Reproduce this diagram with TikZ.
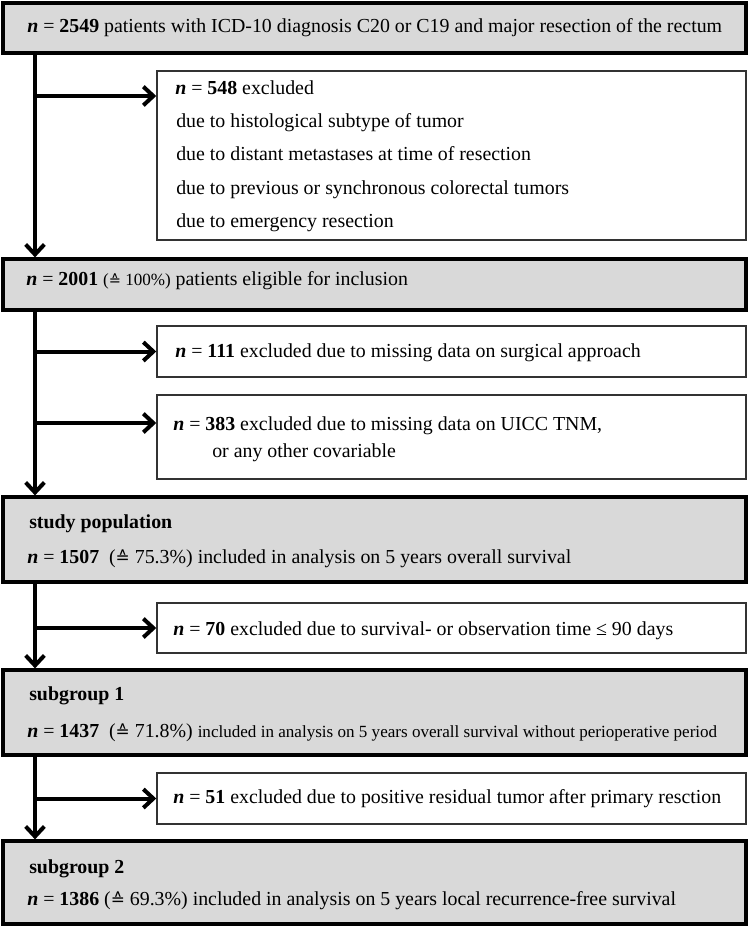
\documentclass[tikz,border=0pt]{standalone}
\usepackage{fontspec}
\setmainfont{Liberation Serif}
\newfontfamily\symfnt{DejaVu Sans}
\usetikzlibrary{arrows.meta,fit}
\newcommand{\estsym}{{\symfnt\scalebox{0.85}{≙}}}
\newcommand{\nn}[1]{\textbf{\textit{n}} = \textbf{#1}}
\definecolor{boxgray}{HTML}{D9D9D9}
\begin{document}
\begin{tikzpicture}[x=0.75pt,y=-0.75pt,
  mainbox/.style={draw=black,line width=2.4pt,fill=boxgray,inner sep=0pt},
  exbox/.style={draw=black!80,line width=1.1pt,fill=white,inner sep=0pt},
  txt/.style={inner sep=0pt,anchor=base west,font=\fontsize{14.9}{18}\selectfont},
  arr/.style={line width=3pt,-{Straight Barb[length=7.5pt,width=14pt]}}]
\useasboundingbox (0,0) rectangle (750,927);
\coordinate (xl) at (35,0);
% boxes
\node[mainbox,fit={(3,3) (746,53)}] (A) {};
\node[exbox,fit={(157,71) (746,240)}] (B) {};
\node[mainbox,fit={(3,259) (746,310)}] (C) {};
\node[exbox,fit={(157,326) (746,377)}] (D) {};
\node[exbox,fit={(157,395) (746,479)}] (E) {};
\node[mainbox,fit={(3,497) (746,582)}] (F) {};
\node[exbox,fit={(157,603) (746,653)}] (G) {};
\node[mainbox,fit={(3,670) (746,755)}] (H) {};
\node[exbox,fit={(157,773) (746,824)}] (I) {};
\node[mainbox,fit={(3,841) (746,924)}] (J) {};
% texts
\node[txt] (At) at (27,33) {\nn{2549} patients with ICD-10 diagnosis C20 or C19 and major resection of the rectum};
\node[txt] (Bt1) at (175,95) {\nn{548} excluded};
\node[txt] (Bt2) at (176,128) {due to histological subtype of tumor};
\node[txt] (Bt3) at (176,161) {due to distant metastases at time of resection};
\node[txt] (Bt4) at (176,195) {due to previous or synchronous colorectal tumors};
\node[txt] (Bt5) at (176,228) {due to emergency resection};
\node[txt] (Ct) at (26,285) {\nn{2001} {\fontsize{12.8}{14}\selectfont(\estsym\ 100\%)} patients eligible for inclusion};
\node[txt] (Dt) at (175,357) {\nn{111} excluded due to missing data on surgical approach};
\node[txt] (Et1) at (173,430) {\nn{383} excluded due to missing data on UICC TNM,};
\node[txt] (Et2) at (212,457) {or any other covariable};
\node[txt] (Ft1) at (29,528) {\textbf{study population}};
\node[txt] (Ft2) at (27,563) {\nn{1507}\ \ (\estsym\ 75.3\%) included in analysis on 5 years overall survival};
\node[txt] (Gt) at (173,635) {\nn{70} excluded due to survival- or observation time ≤ 90 days};
\node[txt] (Ht1) at (29,700) {\textbf{subgroup 1}};
\node[txt] (Ht2) at (27,737) {\nn{1437}\ \ (\estsym\ 71.8\%) {\fontsize{12.8}{14}\selectfont included in analysis on 5 years overall survival without perioperative period}};
\node[txt] (It) at (173,803) {\nn{51} excluded due to positive residual tumor after primary resction};
\node[txt] (Jt1) at (29,873) {\textbf{subgroup 2}};
\node[txt] (Jt2) at (27,905) {\nn{1386} (\estsym\ 69.3\%) included in analysis on 5 years local recurrence-free survival};
% connectors
\coordinate (b1) at (35,96);
\coordinate (e1) at (35,423);
\draw[arr] (A.south -| xl) -- (C.north -| xl);
\draw[arr] (b1) -- (b1 -| B.west);
\draw[arr] (C.south -| xl) -- (F.north -| xl);
\draw[arr] (D.west -| xl) -- (D.west);
\draw[arr] (e1) -- (e1 -| E.west);
\draw[arr] (F.south -| xl) -- (H.north -| xl);
\draw[arr] (G.west -| xl) -- (G.west);
\draw[arr] (H.south -| xl) -- (J.north -| xl);
\draw[arr] (I.west -| xl) -- (I.west);
\end{tikzpicture}
\end{document}
